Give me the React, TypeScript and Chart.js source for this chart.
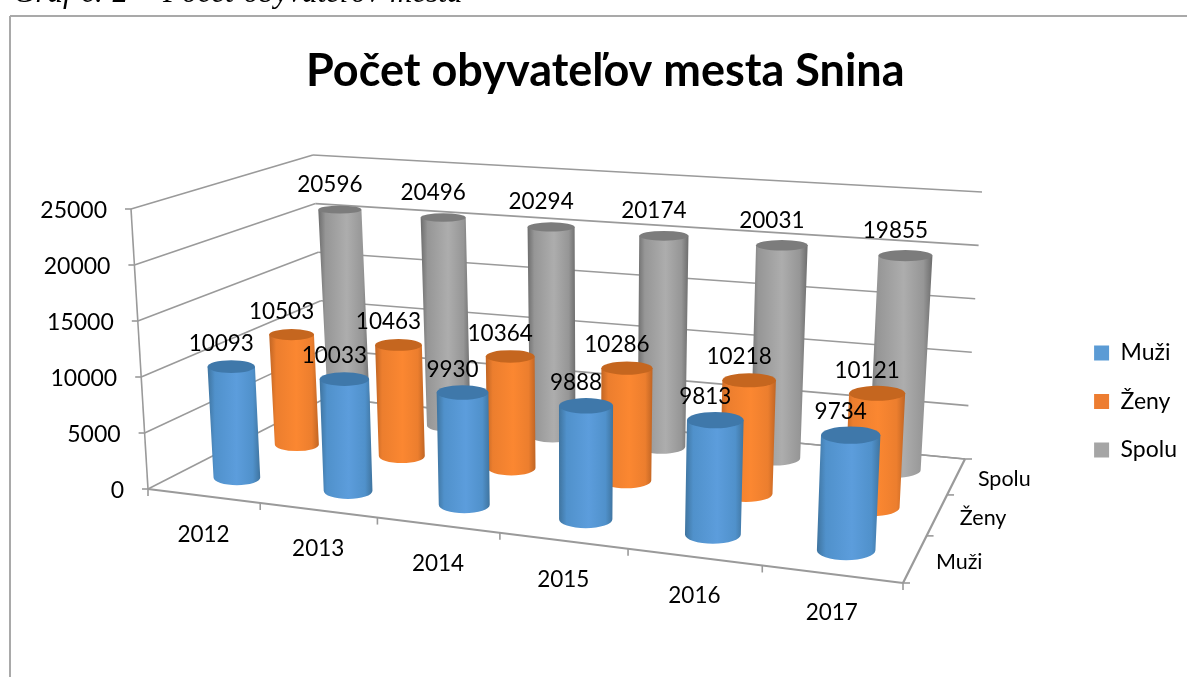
import React, { useEffect, useRef } from "react";
import { Chart, registerables } from "chart.js";

Chart.register(...registerables);

const years = ["2012", "2013", "2014", "2015", "2016", "2017"];
const muzi = [10093, 10033, 9930, 9888, 9813, 9734];
const zeny = [10503, 10463, 10364, 10286, 10218, 10121];
const spolu = [20596, 20496, 20294, 20174, 20031, 19855];
const seriesNames = ["Muži", "Ženy", "Spolu"];
const legendColors = ["#5b9bd5", "#ed7d31", "#a5a5a5"];
const chartTitle = "Počet obyvateľov mesta Snina";
const caption = "Graf č. 2 – Počet obyvateľov mesta";

// The 3D box, as seen on the page: corners of its floor and of its top plane
const FLOOR = [[148, 489], [903, 583], [965, 459], [326, 398]];
const TOP = [[131, 209], [917, 277], [982, 192], [313, 155]];
const PERSPECTIVE_U = 0.873;
const PERSPECTIVE_W = 1.226;
const FONT = "Lato, Carlito, sans-serif";
const AXIS = "#9a9a9a";

const SHADES = [
  { edge: "#3f749f", semi: "#5091cb", mid: "#5c9ddc", lid: "#3f78aa" },
  { edge: "#c06524", semi: "#ec7e2e", mid: "#fb8731", lid: "#c5661f" },
  { edge: "#6d6d6d", semi: "#969696", mid: "#adadad", lid: "#7c7c7c" },
];

const warp = (t: number, a: number) => (a * t) / (1 + (a - 1) * t);
function bilinear(q: number[][], U: number, W: number) {
  return [0, 1].map(
    (k) =>
      q[0][k] * (1 - U) * (1 - W) + q[1][k] * U * (1 - W) + q[2][k] * U * W + q[3][k] * (1 - U) * W
  );
}
// u: along years, w: into the depth, n: fraction of the value axis
function project(u: number, w: number, n: number) {
  const U = warp(u, PERSPECTIVE_U), W = warp(w, PERSPECTIVE_W);
  const f = bilinear(FLOOR, U, W), t = bilinear(TOP, U, W);
  return [f[0] + (t[0] - f[0]) * n, f[1] + (t[1] - f[1]) * n];
}

const cylinderPlugin = {
  id: "cylinders3d",
  beforeDatasetsDraw(chart: any) {
    const { ctx, scales, chartArea } = chart;
    const xs = scales.x, ys = scales.y;
    const uOf = (i: number) => (xs.getPixelForValue(i) - chartArea.left) / chartArea.width;
    const nOf = (v: number) => (chartArea.bottom - ys.getPixelForValue(v)) / chartArea.height;
    const nSeries = chart.data.datasets.length;
    const nCats = chart.data.labels.length;
    const wOf = (s: number) => (s + 0.5) / nSeries;

    const line = (a: number[], b: number[], width = 1.6, color = AXIS) => {
      ctx.strokeStyle = color;
      ctx.lineWidth = width;
      ctx.beginPath();
      ctx.moveTo(a[0], a[1]);
      ctx.lineTo(b[0], b[1]);
      ctx.stroke();
    };
    const text = (s: string, x: number, y: number, size: number, align: CanvasTextAlign = "center") => {
      ctx.font = `${size}px ${FONT}`;
      ctx.fillStyle = "#000";
      ctx.textAlign = align;
      ctx.textBaseline = "middle";
      ctx.fillText(s, x, y);
    };

    ctx.save();
    // page frame of the embedded chart
    line([10, 16], [1187, 16], 2, "#a9a9a9");
    line([10, 16], [10, 677], 2, "#a9a9a9");

    // walls: value gridlines + value axis
    for (const tick of ys.ticks) {
      const n = nOf(tick.value);
      const front = project(0, 0, n), back = project(0, 1, n), right = project(1, 1, n);
      line(front, back);
      line(back, right);
      line(front, [front[0] - 6, front[1]]);
      text(String(tick.value), front[0] - 24, front[1] + 2, 23, "right");
    }
    line(project(0, 0, 0), project(0, 0, 1));

    // floor
    line(project(0, 0, 0), project(1, 0, 0), 2.2);
    line(project(1, 0, 0), project(1, 1, 0), 2.2);
    line(project(1, 1, 0), project(0, 1, 0));
    for (let i = 0; i <= nCats; i++) {
      const p = project(i / nCats, 0, 0);
      line(p, [p[0], p[1] + 7]);
    }
    for (let s = 0; s <= nSeries; s++) {
      const p = project(1, s / nSeries, 0);
      line(p, [p[0] + 7, p[1]]);
    }

    // cylinders, back to front
    const labels: [string, number, number][] = [];
    for (let s = nSeries - 1; s >= 0; s--) {
      const shade = SHADES[s];
      const values = chart.data.datasets[s].data as number[];
      values.forEach((v, i) => {
        const u = uOf(i), w = wOf(s), n = nOf(v);
        const du = 0.0355, dw = 0.072;
        const b = project(u, w, 0), t = project(u, w, n);
        const span = (k: number) =>
          Math.hypot(
            project(u + du, w, k)[0] - project(u - du, w, k)[0],
            project(u + du, w, k)[1] - project(u - du, w, k)[1]
          ) / 2;
        const rx0 = span(0), rx1 = span(n);
        const ry0 = Math.abs(project(u, w + dw, 0)[1] - project(u, w - dw, 0)[1]) / 2;
        const ry1 = Math.abs(project(u, w + dw, n)[1] - project(u, w - dw, n)[1]) / 2;

        const left = Math.min(t[0] - rx1, b[0] - rx0), right = Math.max(t[0] + rx1, b[0] + rx0);
        const g = ctx.createLinearGradient(left, 0, right, 0);
        g.addColorStop(0, shade.edge);
        g.addColorStop(0.14, shade.semi);
        g.addColorStop(0.55, shade.mid);
        g.addColorStop(0.86, shade.semi);
        g.addColorStop(1, shade.edge);
        ctx.fillStyle = g;
        ctx.beginPath();
        ctx.moveTo(t[0] - rx1, t[1]);
        ctx.lineTo(b[0] - rx0, b[1]);
        ctx.ellipse(b[0], b[1], rx0, ry0, 0, Math.PI, 0, true);
        ctx.lineTo(t[0] + rx1, t[1]);
        ctx.closePath();
        ctx.fill();
        ctx.fillStyle = shade.lid;
        ctx.beginPath();
        ctx.ellipse(t[0], t[1], rx1, ry1, 0, 0, Math.PI * 2);
        ctx.fill();
        labels.push([String(v), t[0] - 10, t[1] - 21 - 5 * n]);
      });
    }

    // category + series axis labels, and value labels on top of everything
    (chart.data.labels as string[]).forEach((y, i) => {
      const p = project(uOf(i), 0, 0);
      text(y, p[0], p[1] + 39, 22.5);
    });
    chart.data.datasets.forEach((ds: any, s: number) => {
      const p = project(1, wOf(s), 0);
      text(ds.label, p[0] + 44 + s * 2, p[1] + 3, 21.5);
    });
    labels.forEach(([s, x, y]) => text(s, x, y, 22.5));
    ctx.restore();
    return false;
  },
};

export default function App() {
  const ref = useRef<HTMLCanvasElement>(null);
  useEffect(() => {
    document.body.style.margin = "0";
    document.body.style.overflow = "hidden";
    const chart = new Chart(ref.current as HTMLCanvasElement, {
      type: "bar",
      data: {
        labels: years,
        datasets: [muzi, zeny, spolu].map((data, s) => ({
          label: seriesNames[s],
          data,
          backgroundColor: legendColors[s],
        })),
      },
      options: {
        responsive: false,
        animation: false,
        layout: { padding: { left: 142, right: 0, top: 44, bottom: 190 } },
        scales: {
          x: { display: false },
          y: { display: false, min: 0, max: 25000, ticks: { stepSize: 5000 } },
        },
        plugins: {
          tooltip: { enabled: false },
          title: {
            display: true,
            text: chartTitle,
            fullSize: false,
            color: "#000",
            font: { family: FONT, size: 45, weight: "bold" },
            padding: { top: 0, bottom: 20 },
          },
          legend: {
            position: "right",
            align: "end",
            labels: {
              boxWidth: 15,
              boxHeight: 15,
              padding: 25.5,
              color: "#000",
              font: { family: FONT, size: 23 },
            },
          },
        },
      } as any,
      plugins: [cylinderPlugin],
    });
    return () => chart.destroy();
  }, []);
  return (
    <div style={{ position: "relative", width: 1187, height: 677, overflow: "hidden", background: "#fff" }}>
      <div
        style={{
          position: "absolute",
          left: 13,
          top: -24,
          font: "italic 31px/32px 'Liberation Serif', serif",
          wordSpacing: 2,
          color: "#000",
          whiteSpace: "nowrap",
        }}
      >
        {caption}
      </div>
      <canvas ref={ref} width={1187} height={677} style={{ display: "block" }} />
    </div>
  );
}
